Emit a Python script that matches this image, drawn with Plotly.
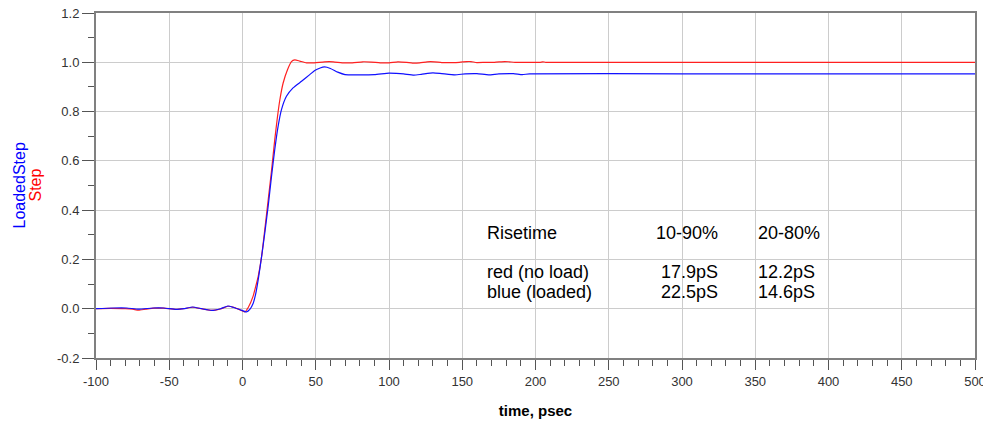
import plotly.graph_objects as go

# ---- data ----
t_step = [-100, -90, -80, -75, -71, -66, -60, -54, -50, -45,
          -40, -34, -28, -21, -15, -10, -6, -2, 1.6, 4,
          7.2, 9, 10.7, 13, 15.2, 17.5, 19.8, 22, 23.9, 25.5,
          27.7, 30.7, 33.4, 35.7, 39.1, 43.7, 49, 56, 62, 68,
          75, 82, 88, 94, 100, 106, 112, 116, 121, 126,
          131, 136, 142, 148, 153, 156, 160, 166, 172, 179,
          182, 186, 195, 203, 205, 207, 220, 300, 400, 500]
v_step = [0.0, 0.001, 0.0, -0.002, -0.006, -0.002, 0.002, 0.002, 0.0, -0.003,
          0.0, 0.006, 0.0, -0.007, -0.001, 0.010, 0.006, -0.004, -0.013, 0.006,
          0.05, 0.09, 0.13, 0.21, 0.32, 0.44, 0.56, 0.685, 0.78, 0.848,
          0.915, 0.97, 1.003, 1.010, 1.005, 0.998, 0.998, 1.002, 1.002, 0.998,
          0.998, 1.002, 1.001, 0.998, 0.998, 1.002, 1.0, 0.997, 0.998, 1.002,
          1.002, 0.999, 0.999, 1.0, 1.003, 1.003, 0.999, 1.0, 1.0, 1.003,
          1.002, 1.0, 1.0, 1.0, 1.002, 1.0, 1.0, 1.0, 1.0, 1.0]

t_loaded = [-100, -88, -79, -71, -61, -54, -45, -40, -34, -28,
            -21, -15, -10, -6, -2, 2.7, 5, 7.3, 9, 10.7,
            13, 15.2, 17.5, 19.8, 22, 24.3, 26.6, 30, 34.5, 40.3,
            45.9, 49.3, 53, 56, 60, 65, 70, 80, 90, 100,
            105, 110, 117, 122, 130, 136, 145, 152, 160, 168,
            175, 185, 191, 196, 300, 400, 500]
v_loaded = [0.0, 0.003, 0.003, -0.002, 0.003, 0.003, -0.003, 0.0, 0.007, 0.0,
            -0.007, 0.0, 0.011, 0.005, -0.003, -0.013, -0.003, 0.022, 0.06, 0.117,
            0.21, 0.307, 0.415, 0.537, 0.645, 0.74, 0.808, 0.862, 0.896, 0.923,
            0.95, 0.967, 0.977, 0.981, 0.975, 0.96, 0.95, 0.949, 0.95, 0.956,
            0.955, 0.953, 0.948, 0.951, 0.957, 0.954, 0.949, 0.953, 0.954, 0.949,
            0.953, 0.954, 0.950, 0.953, 0.953, 0.953, 0.953]

x_tick_vals = [-100, -50, 0, 50, 100, 150, 200, 250, 300, 350, 400, 450, 500]
x_tick_text = ["-100", "-50", "0", "50", "100", "150", "200", "250", "300", "350", "400", "450", "500"]
y_tick_vals = [-0.2, 0.0, 0.2, 0.4, 0.6, 0.8, 1.0, 1.2]
y_tick_text = ["-0.2", "0.0", "0.2", "0.4", "0.6", "0.8", "1.0", "1.2"]

table_header = ["Risetime", "10-90%", "20-80%"]
table_rows = [["red (no load)", "17.9pS", "12.2pS"],
              ["blue (loaded)", "22.5pS", "14.6pS"]]

FONT = "Arial, 'Liberation Sans', sans-serif"

fig = go.Figure()
fig.add_trace(go.Scatter(x=t_step, y=v_step, mode="lines", name="Step",
                         line=dict(color="#ff2020", width=1.2, shape="spline", smoothing=0.5)))
fig.add_trace(go.Scatter(x=t_loaded, y=v_loaded, mode="lines", name="LoadedStep",
                         line=dict(color="#1010ff", width=1.2, shape="spline", smoothing=0.5)))

axis_common = dict(
    showline=True, linecolor="#808080", linewidth=2, mirror=True,
    showgrid=True, gridcolor="#cccccc", gridwidth=1,
    ticks="outside", tickcolor="#555555", tickwidth=1,
    tickfont=dict(family=FONT, size=13, color="#333333"),
    zeroline=False, automargin=False, ticklabeloverflow="allow",
)

fig.update_xaxes(
    range=[-100, 500], tickmode="array", tickvals=x_tick_vals, ticktext=x_tick_text,
    ticklen=10,
    minor=dict(tickmode="linear", tick0=0, dtick=10, ticks="outside", ticklen=6,
               tickcolor="#555555", showgrid=False),
    title=dict(text="<b>time, psec</b>", font=dict(family=FONT, size=15, color="#000000"),
               standoff=18),
    **axis_common,
)
fig.update_yaxes(
    range=[-0.2, 1.2], tickmode="array", tickvals=y_tick_vals, ticktext=y_tick_text,
    ticklen=12,
    minor=dict(tickmode="linear", tick0=0, dtick=0.1, ticks="outside", ticklen=6,
               tickcolor="#555555", showgrid=False),
    **axis_common,
)

ann_font = dict(family=FONT, size=18, color="#000000")
annotations = []
row_y = [0.307, 0.147, 0.066]
rows = [table_header] + table_rows
for ry, row in zip(row_y, rows):
    annotations.append(dict(x=165.5, y=ry, xref="x", yref="y", text=row[0], showarrow=False,
                            xanchor="left", yanchor="middle", font=ann_font))
    annotations.append(dict(x=326, y=ry, xref="x", yref="y", text=row[1], showarrow=False,
                            xanchor="right", yanchor="middle", font=ann_font))
    annotations.append(dict(x=350.5, y=ry, xref="x", yref="y", text=row[2], showarrow=False,
                            xanchor="left", yanchor="middle", font=ann_font))

# two-line coloured y-axis title
annotations.append(dict(x=0, y=0.5, xref="paper", yref="paper", text="LoadedStep",
                        textangle=-90, showarrow=False, xanchor="center", yanchor="middle",
                        xshift=-77, font=dict(family=FONT, size=16, color="#0000ff")))
annotations.append(dict(x=0, y=0.5, xref="paper", yref="paper", text="Step",
                        textangle=-90, showarrow=False, xanchor="center", yanchor="middle",
                        xshift=-61, font=dict(family=FONT, size=16, color="#ff0000")))

# the page body adds an 8px margin at top/left, so the figure is offset by it
fig.update_layout(
    width=983, height=415,
    margin=dict(l=88, r=16, t=5, b=65),
    paper_bgcolor="white", plot_bgcolor="white",
    showlegend=False,
    annotations=annotations,
    font=dict(family=FONT),
)

fig.write_html("out.html")
